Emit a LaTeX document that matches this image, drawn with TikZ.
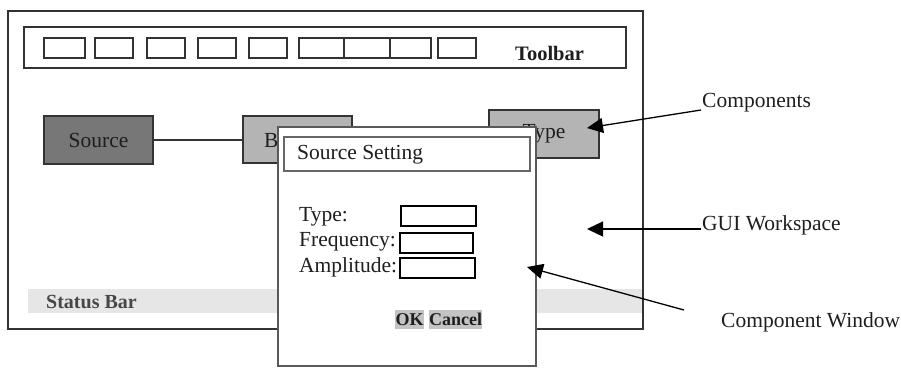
\documentclass[tikz,border=0pt]{standalone}
\usepackage{fontspec}
\setmainfont{Liberation Serif}
\usetikzlibrary{arrows.meta}
\definecolor{linegray}{HTML}{333333}
\definecolor{darkfill}{HTML}{777777}
\definecolor{lightfill}{HTML}{B4B4B4}
\definecolor{statusfill}{HTML}{E6E6E6}
\definecolor{btnfill}{HTML}{C4C4C4}
\definecolor{txt}{HTML}{1E1E1E}
\begin{document}
\begin{tikzpicture}[x=1pt,y=-1pt,
  box/.style={draw=linegray, anchor=north west, inner sep=0pt, outer sep=0pt},
  framebox/.style={box, line width=1.7pt, fill=white},
  tbtn/.style={box, line width=1.9pt, fill=white, minimum height=20pt},
  comp/.style={box, line width=1.5pt},
  field/.style={box, draw=black, line width=2.1pt, fill=white, minimum width=75pt, minimum height=20pt},
  lbl/.style={font=\fontsize{21.5}{25}\selectfont, text=txt, inner sep=0pt},
  blbl/.style={lbl, font=\fontsize{20.5}{24}\selectfont\bfseries},
  arr/.style={draw=black, line width=1.3pt, -{Triangle[length=16pt,width=15pt]}}
]
\useasboundingbox (0,0) rectangle (901,367);
% main window
\node[framebox, minimum width=635pt, minimum height=318pt] (win) at (8,11) {};
% toolbar
\node[framebox, minimum width=602pt, minimum height=41pt] (toolbar) at (24,27) {};
\node[tbtn, minimum width=41pt] (b1) at (44,38) {};
\node[tbtn, minimum width=38pt] (b2) at (95,38) {};
\node[tbtn, minimum width=38pt] (b3) at (147,38) {};
\node[tbtn, minimum width=38pt] (b4) at (198,38) {};
\node[tbtn, minimum width=38pt] (b5) at (249,38) {};
\node[tbtn, minimum width=45pt] (b6) at (299,38) {};
\node[tbtn, minimum width=46pt] (b7) at (344,38) {};
\node[tbtn, minimum width=41pt] (b8) at (390,38) {};
\node[tbtn, minimum width=38pt] (b9) at (438,38) {};
\node[blbl, anchor=west] (tbtxt) at (515,53) {Toolbar};
% status bar
\node[anchor=north west, fill=statusfill, inner sep=0pt, minimum width=614pt, minimum height=24pt] (status) at (28,289) {};
\node[lbl, font=\fontsize{20}{24}\selectfont\bfseries, anchor=west, text=black!72] (stattxt) at (46,302) {Status Bar};
% components
\node[comp, fill=darkfill, minimum width=109pt, minimum height=48pt] (src) at (44,116) {};
\node[lbl] (srctxt) at (src.center) {Source};
\node[comp, fill=lightfill, minimum width=109pt, minimum height=47pt] (bx) at (243,116) {};
\node[lbl, anchor=west] (bxtxt) at (264,140) {B};
\node[comp, fill=lightfill, minimum width=110pt, minimum height=48pt] (tp) at (489,110) {};
\node[lbl] (tptxt) at (tp.center) {Type};
\draw[linegray, line width=1.3pt] (src.east) -- (src.east -| bx.west);
% dialog
\node[box, draw=black!65, line width=1.8pt, fill=white, minimum width=258pt, minimum height=239pt] (dlg) at (278,127) {};
\node[box, draw=black!60, line width=1.5pt, fill=white, minimum width=246pt, minimum height=34pt] (title) at (284,137) {};
\node[lbl, anchor=west] (titletxt) at (297,155) {Source Setting};
\node[lbl, anchor=west] (l1) at (299,217) {Type:};
\node[lbl, anchor=west] (l2) at (299,242) {Frequency:};
\node[lbl, anchor=west] (l3) at (299,267) {Amplitude:};
\node[field] (f1) at (401,206) {};
\node[field, minimum width=73pt] (f2) at (400,233) {};
\node[field] (f3) at (400,258) {};
\node[anchor=north west, fill=btnfill, inner sep=0pt, minimum width=29pt, minimum height=19pt] (okbg) at (395,310) {};
\node[anchor=north west, fill=btnfill, inner sep=0pt, minimum width=53pt, minimum height=19pt] (cbg) at (429,310) {};
\node[lbl, font=\fontsize{18}{22}\selectfont\bfseries] (ok) at (okbg.center) {OK};
\node[lbl, font=\fontsize{18}{22}\selectfont\bfseries] (cancel) at (cbg.center) {Cancel};
% annotations
\node[lbl, anchor=west] (compl) at (702,103) {Components};
\node[lbl, anchor=west] (guil) at (702,225) {GUI Workspace};
\node[lbl, anchor=west] (cwl) at (721,322) {Component Window};
\coordinate (c1s) at (701,110);
\coordinate (c1t) at (587,128);
\coordinate (c2s) at (701,229);
\coordinate (c2t) at (587,229);
\coordinate (c3s) at (684,310);
\coordinate (c3t) at (527,267);
\draw[arr] (c1s) -- (c1t);
\draw[arr] (c2s) -- (c2t);
\draw[arr] (c3s) -- (c3t);
\end{tikzpicture}
\end{document}
